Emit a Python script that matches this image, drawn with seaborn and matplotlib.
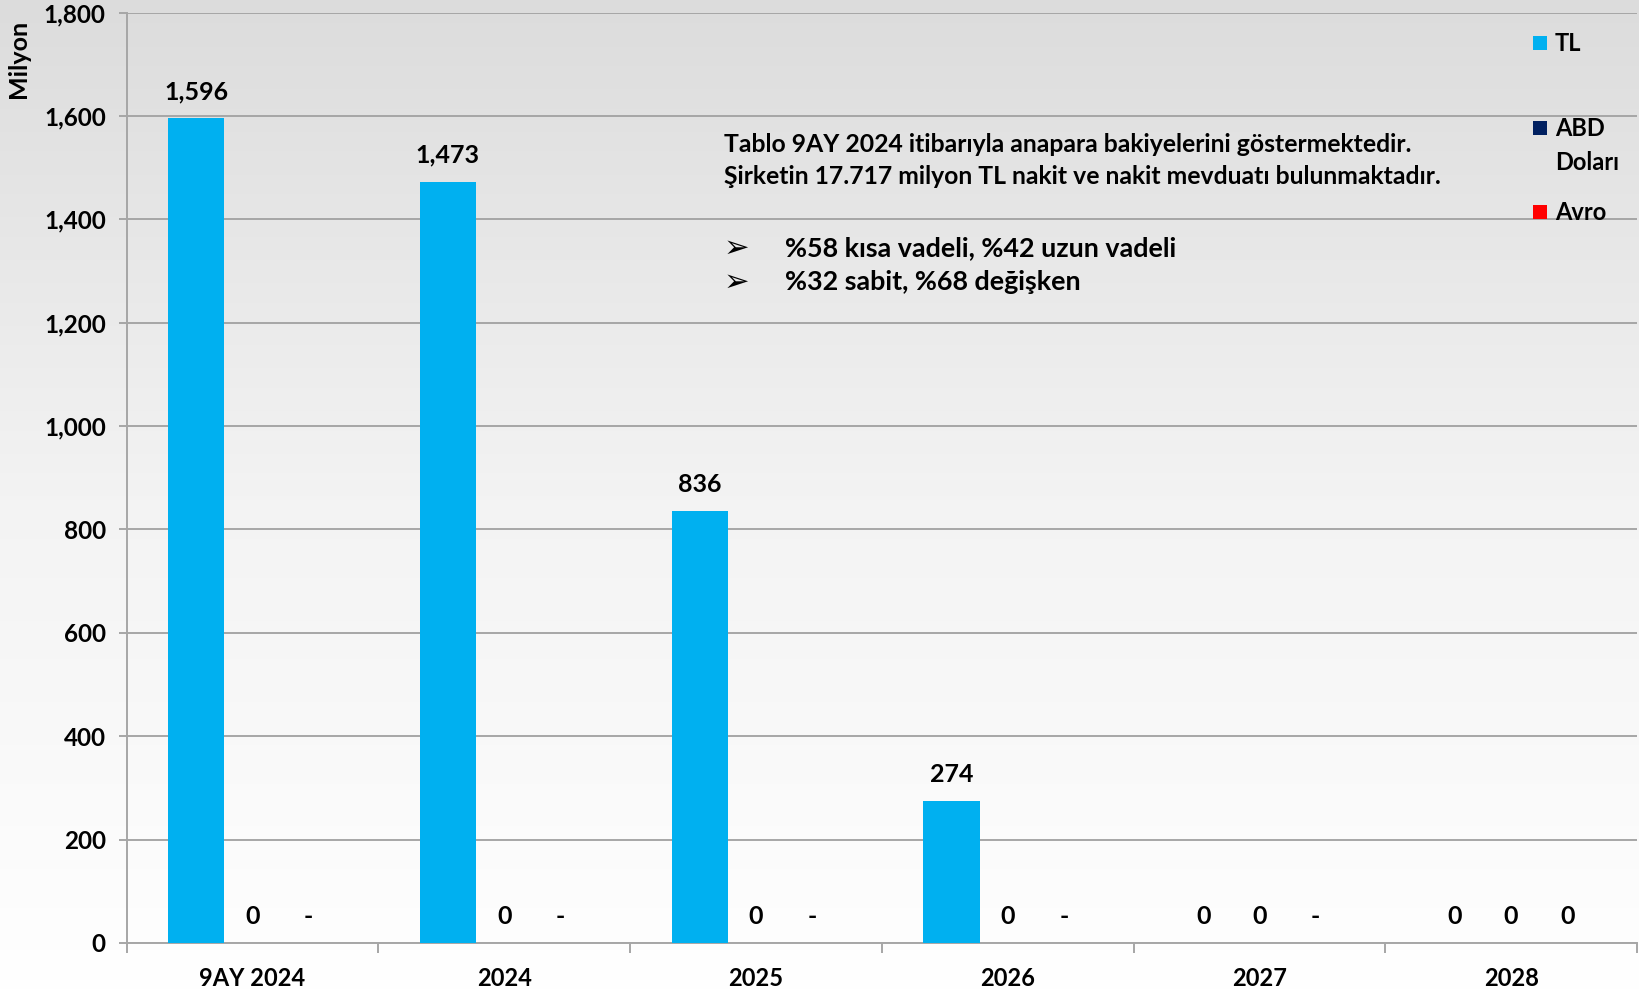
import numpy as np
import pandas as pd
import matplotlib
matplotlib.use("Agg")
import matplotlib.pyplot as plt
from matplotlib.colors import LinearSegmentedColormap
from matplotlib.patches import Rectangle
from matplotlib.ticker import FixedLocator, FuncFormatter
import seaborn as sns

# ---- data -------------------------------------------------------------
categories = ["9AY 2024", "2024", "2025", "2026", "2027", "2028"]
series_names = ["TL", "ABD Doları", "Avro"]
series_colors = ["#00B0F0", "#002060", "#FF0000"]
tl_values = [1596, 1473, 836, 274, 0, 0]
usd_values = [0, 0, 0, 0, 0, 0]
eur_values = [0, 0, 0, 0, 0, 0]
usd_labels = ["0", "0", "0", "0", "0", "0"]
eur_labels = ["-", "-", "-", "-", "-", "0"]
y_ticks = [0, 200, 400, 600, 800, 1000, 1200, 1400, 1600, 1800]

note_lines = [
    "Tablo 9AY 2024 itibarıyla anapara bakiyelerini göstermektedir.",
    "Şirketin 17.717 milyon TL nakit ve nakit mevduatı bulunmaktadır.",
]
bullet_lines = ["%58 kısa vadeli, %42 uzun vadeli", "%32 sabit, %68 değişken"]

# ---- frame ------------------------------------------------------------
sns.set_theme(style="white")
plt.rcParams["font.family"] = ["Lato", "DejaVu Sans"]
plt.rcParams["font.weight"] = "bold"

W, H = 1639, 993
fig = plt.figure(figsize=(W / 100, H / 100), dpi=100)

def fx(px):
    return px / W

def fy(py):
    return 1 - py / H

# soft vertical grey-to-white background
bg = fig.add_axes([0, 0, 1, 1], zorder=-10)
grad = np.linspace(0, 1, 256).reshape(-1, 1)
cmap = LinearSegmentedColormap.from_list("bgfade", ["#DCDCDC", "#F3F3F3", "#FFFFFF"])
bg.imshow(grad, aspect="auto", cmap=cmap, extent=[0, 1, 0, 1], origin="upper")
bg.axis("off")

left, right, top, bottom = 126.5, 1637, 12.5, 943
ax = fig.add_axes([fx(left), 1 - bottom / H, (right - left) / W, (bottom - top) / H])
ax.set_facecolor("none")

df = pd.DataFrame({
    "kategori": categories * 3,
    "seri": [series_names[0]] * 6 + [series_names[1]] * 6 + [series_names[2]] * 6,
    "deger": tl_values + usd_values + eur_values,
})

sns.barplot(
    data=df, x="kategori", y="deger", hue="seri",
    order=categories, hue_order=series_names,
    palette=series_colors, saturation=1, width=0.67,
    errorbar=None, legend=False, ax=ax, zorder=3, linewidth=0,
)

# value labels above each bar
label_sets = [[f"{v:,}" for v in tl_values], usd_labels, eur_labels]
for container, labels in zip(ax.containers, label_sets):
    for bar, txt in zip(container, labels):
        ax.annotate(
            txt, (bar.get_x() + bar.get_width() / 2, bar.get_height()),
            xytext=(0, 19), textcoords="offset points",
            ha="center", va="center", fontsize=18, fontweight="bold",
            color="#000000", zorder=5,
        )

# axes styling
grid_c = "#A6A6A6"
ax.set_xlim(-0.5, len(categories) - 0.5)
ax.set_ylim(0, 1800)
ax.yaxis.set_major_locator(FixedLocator(y_ticks))
ax.yaxis.set_major_formatter(FuncFormatter(lambda v, p: f"{int(v):,}"))
ax.grid(axis="y", color=grid_c, linewidth=1.4, zorder=0)
ax.set_axisbelow(True)
for side in ["top", "right"]:
    ax.spines[side].set_visible(False)
for side in ["left", "bottom"]:
    ax.spines[side].set_color(grid_c)
    ax.spines[side].set_linewidth(1.4)
ax.tick_params(axis="y", length=6, width=1.4, color=grid_c, pad=9,
               labelsize=17.5, labelcolor="#000000", left=True)
ax.set_xticks(range(len(categories)))
ax.set_xticklabels(categories)
ax.xaxis.set_minor_locator(FixedLocator([i - 0.5 for i in range(len(categories) + 1)]))
ax.tick_params(axis="x", which="major", length=0, pad=17, labelsize=17,
               labelcolor="#000000")
ax.tick_params(axis="x", which="minor", length=7, width=1.4, color=grid_c, bottom=True)
for lbl in ax.get_xticklabels() + ax.get_yticklabels():
    lbl.set_fontweight("bold")
ax.set_xlabel("")
ax.set_ylabel("")

fig.text(fx(19), fy(59), "Milyon", rotation=90, ha="center", va="center",
         fontsize=18, fontweight="bold", color="#000000")

# notes block
fig.text(fx(724), fy(144), note_lines[0], ha="left", va="center",
         fontsize=17.8, fontweight="bold", color="#000000")
fig.text(fx(724), fy(177), note_lines[1], ha="left", va="center",
         fontsize=17.8, fontweight="bold", color="#000000")
for yy, line in zip([248, 282], bullet_lines):
    fig.text(fx(736), fy(yy), "➢", ha="center", va="center", fontsize=22,
             family=["DejaVu Sans"], color="#000000")
    fig.text(fx(785), fy(yy), line, ha="left", va="center",
             fontsize=19.4, fontweight="bold", color="#000000")

# legend
leg_items = [(series_names[0], 43, "TL"), (series_names[1], 128, "ABD\nDoları"),
             (series_names[2], 212, "Avro")]
for (name, yy, txt), col in zip(leg_items, series_colors):
    fig.patches.append(Rectangle((fx(1533), fy(yy + 7)), fx(14), 14 / H,
                                 transform=fig.transFigure, facecolor=col,
                                 edgecolor="none", zorder=6))
    fig.text(fx(1555), fy(yy - 11), txt, ha="left", va="top", fontsize=17,
             fontweight="bold", color="#000000", linespacing=1.6)

fig.savefig("out.png", dpi=100)
